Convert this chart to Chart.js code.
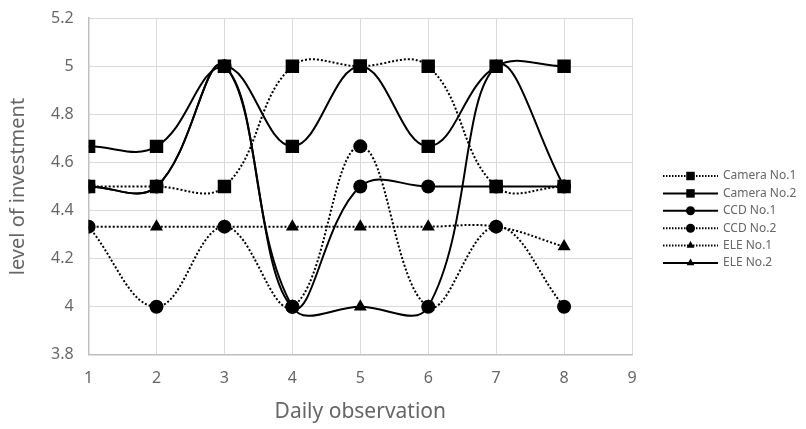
<!DOCTYPE html>
<html>
<head>
<meta charset="utf-8">
<script src="https://cdn.jsdelivr.net/npm/chart.js@4"></script>
<style>
  html, body { margin: 0; padding: 0; background: #ffffff; }
  #wrap { width: 806px; height: 429px; }
</style>
</head>
<body>
<div id="wrap"><canvas id="chart" width="806" height="429"></canvas></div>
<script>
// Datos
const dias = [1, 2, 3, 4, 5, 6, 7, 8];
const cameraNo1 = [4.5, 4.5, 4.5, 5, 5, 5, 4.5, 4.5];
const cameraNo2 = [4.667, 4.667, 5, 4.667, 5, 4.667, 5, 5];
const ccdNo1 = [4.5, 4.5, 5, 4, 4.5, 4.5, 4.5, 4.5];
const ccdNo2 = [4.333, 4, 4.333, 4, 4.667, 4, 4.333, 4];
const eleNo1 = [4.333, 4.333, 4.333, 4.333, 4.333, 4.333, 4.333, 4.25];
const eleNo2 = [4.5, 4.5, 5, 4, 4, 4, 5, 4.5];

const nombres = ['Camera No.1', 'Camera No.2', 'CCD No.1', 'CCD No.2', 'ELE No.1', 'ELE No.2'];
const valores = [cameraNo1, cameraNo2, ccdNo1, ccdNo2, eleNo1, eleNo2];
const punteado = [true, false, false, true, true, false];
const marcadores = ['rect', 'rect', 'circle', 'circle', 'triangle', 'triangle'];
const radios = { rect: 9.5, circle: 7, triangle: 7.5 };

const fuente = "'Noto Sans', 'DejaVu Sans', sans-serif";
const gris = '#666666';

const datasets = nombres.map((nombre, i) => ({
    label: nombre,
    data: dias.map((d, j) => ({ x: d, y: valores[i][j] })),
    borderColor: '#000000',
    backgroundColor: '#000000',
    borderWidth: 2,
    borderDash: punteado[i] ? [2, 2] : [],
    tension: 0.4,
    fill: false,
    pointStyle: marcadores[i],
    pointRadius: radios[marcadores[i]],
    pointBackgroundColor: '#000000',
    pointBorderColor: '#000000',
    pointBorderWidth: 0
}));

// Leyenda dibujada a mano a la derecha
const leyenda = {
    id: 'leyenda',
    afterDraw(chart) {
        const ctx = chart.ctx;
        const x0 = 663, x1 = 718;
        ctx.save();
        chart.data.datasets.forEach((ds, i) => {
            const y = 176 + i * 17.4;
            ctx.strokeStyle = '#000000';
            ctx.lineWidth = 2;
            ctx.setLineDash(punteado[i] ? [1.5, 1.5] : []);
            ctx.beginPath();
            ctx.moveTo(x0, y);
            ctx.lineTo(x1, y);
            ctx.stroke();
            ctx.setLineDash([]);
            ctx.fillStyle = '#000000';
            Chart.helpers.drawPoint(ctx, {
                pointStyle: ds.pointStyle,
                radius: ds.pointStyle === 'rect' ? 6 : 4.5,
                borderWidth: 0
            }, (x0 + x1) / 2, y);
            ctx.fillStyle = gris;
            ctx.font = '12px ' + fuente;
            ctx.textAlign = 'left';
            ctx.textBaseline = 'middle';
            ctx.fillText(ds.label, 723, y);
        });
        ctx.restore();
    }
};

new Chart(document.getElementById('chart'), {
    type: 'line',
    data: { datasets: datasets },
    options: {
        responsive: false,
        animation: false,
        layout: { autoPadding: false, padding: { left: 6, right: 174, top: 18, bottom: 6 } },
        plugins: {
            legend: { display: false },
            tooltip: { enabled: false }
        },
        scales: {
            x: {
                type: 'linear',
                min: 1,
                max: 9,
                ticks: { stepSize: 1, color: gris, font: { family: fuente, size: 16 }, padding: 14 },
                grid: { color: '#d9d9d9', lineWidth: 1, drawTicks: false },
                border: { color: '#bfbfbf', width: 1.5 },
                title: {
                    display: true,
                    text: 'Daily observation',
                    color: gris,
                    font: { family: fuente, size: 21, lineHeight: 1.0 },
                    padding: { top: 0, bottom: 0 }
                }
            },
            y: {
                min: 3.8,
                max: 5.2,
                ticks: {
                    stepSize: 0.2,
                    color: gris,
                    // lineHeight bajo para que la etiqueta superior no empuje el área hacia abajo
                    font: { family: fuente, size: 16, lineHeight: 0.4 },
                    padding: 15,
                    callback: function(value) {
                        return String(Number(value.toFixed(1)));
                    }
                },
                grid: { color: '#d9d9d9', lineWidth: 1, drawTicks: false },
                border: { color: '#bfbfbf', width: 1.5 },
                title: {
                    display: true,
                    text: 'level of investment',
                    color: gris,
                    font: { family: fuente, size: 20 },
                    padding: { top: 0, bottom: 6 }
                }
            }
        }
    },
    plugins: [leyenda]
});
</script>
</body>
</html>
